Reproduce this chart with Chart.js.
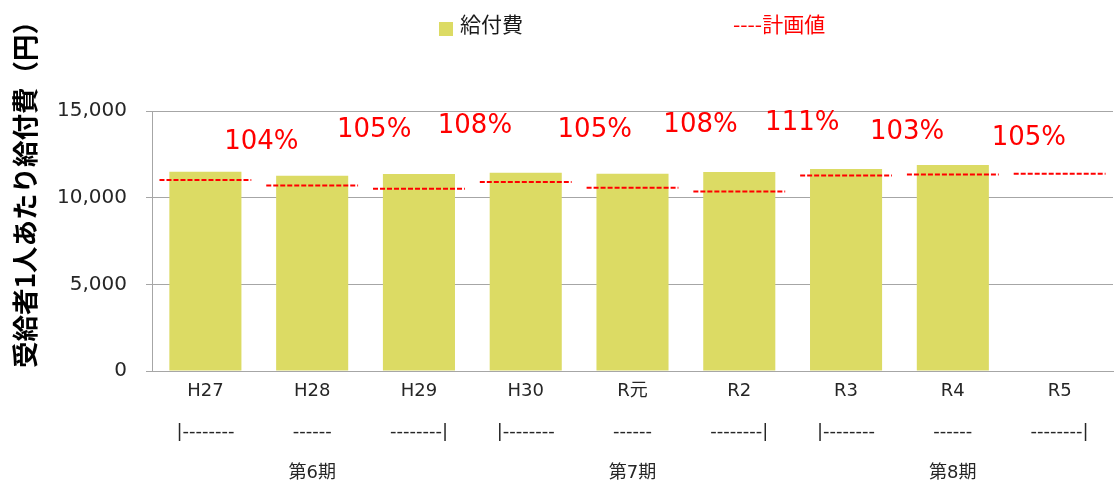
<!DOCTYPE html>
<html lang="ja">
<head>
<meta charset="utf-8">
<title>受給者1人あたり給付費</title>
<script src="https://cdn.jsdelivr.net/npm/chart.js@4.4.1/dist/chart.umd.min.js"></script>
<style>
  html, body { margin: 0; padding: 0; background: #ffffff; }
  #wrap { width: 1114px; height: 482px; }
</style>
</head>
<body>
<div id="wrap"><canvas id="chart" width="1114" height="482"></canvas></div>
<script>
// Fiscal years, with the period brackets and period names shown beneath them
const categories = ['H27', 'H28', 'H29', 'H30', 'R元', 'R2', 'R3', 'R4', 'R5'];
const bracketRow = ['|--------', '------', '--------|', '|--------', '------', '--------|', '|--------', '------', '--------|'];
const periodRow = ['', '第6期', '', '', '第7期', '', '', '第8期', ''];

// Benefit cost per recipient (yen) and the planned value for each year
const benefitCost = [11500, 11270, 11360, 11440, 11380, 11480, 11650, 11880, null];
const planValue = [11020, 10700, 10520, 10900, 10570, 10360, 11280, 11340, 11380];

// Value axis ticks
const yTicks = [0, 5000, 10000, 15000];

const LATIN = "'DejaVu Sans', 'Noto Sans CJK JP', sans-serif";
const CJK = "'Noto Sans CJK JP', 'DejaVu Sans', sans-serif";
const BAR_COLOR = 'rgb(220, 219, 100)';
const PLAN_COLOR = '#ff0000';
const GRID_COLOR = '#a6a6a6';
const SEG_HALF = 0.43; // half length of each plan segment, in category units

// Each plan value becomes a short horizontal segment centred on its year
const planSegments = [];
planValue.forEach((v, i) => {
  planSegments.push({ x: i - SEG_HALF, y: v }, { x: i + SEG_HALF, y: v }, { x: i + 0.5, y: null });
});

// Ratio of actual to plan, shown as a percentage above each year
const ratioLabels = benefitCost.map((v, i) =>
  v == null ? null : Math.round(v / planValue[i] * 100) + '%');

const xLabels = categories.map((c, i) => [c, bracketRow[i], periodRow[i]]);

const overlay = {
  id: 'overlay',
  afterDraw(chart, args, opts) {
    const ctx = chart.ctx;
    const xs = chart.scales.x;
    const top = chart.chartArea.top;
    ctx.save();

    // legend
    ctx.fillStyle = BAR_COLOR;
    ctx.fillRect(439, 22, 14, 14);
    ctx.font = '21px ' + CJK;
    ctx.textBaseline = 'middle';
    ctx.textAlign = 'left';
    ctx.fillStyle = '#1a1a1a';
    ctx.fillText('給付費', 460, 24);
    ctx.fillStyle = PLAN_COLOR;
    ctx.fillText('----計画値', 733, 24);

    // value axis title
    ctx.save();
    ctx.translate(25, 188);
    ctx.rotate(-Math.PI / 2);
    ctx.font = 'bold 26.5px ' + CJK;
    ctx.fillStyle = '#000000';
    ctx.textAlign = 'center';
    ctx.textBaseline = 'middle';
    ctx.fillText('受給者1人あたり給付費（円）', 0, 0);
    ctx.restore();

    // ratio labels
    ctx.font = '26px ' + LATIN;
    ctx.fillStyle = PLAN_COLOR;
    ctx.textAlign = 'center';
    ctx.textBaseline = 'middle';
    ratioLabels.forEach((t, i) => {
      if (!t) return;
      const x = xs.getPixelForValue(i) + opts.dx[i];
      ctx.fillText(t, x, top + opts.dy[i]);
    });
    ctx.restore();
  }
};

new Chart(document.getElementById('chart'), {
  data: {
    labels: xLabels,
    datasets: [
      {
        type: 'line',
        label: '計画値',
        data: planSegments,
        xAxisID: 'x2',
        yAxisID: 'y',
        borderColor: PLAN_COLOR,
        borderWidth: 2,
        borderDash: [5, 2],
        pointRadius: 0,
        spanGaps: false,
        fill: false,
        order: 0
      },
      {
        type: 'bar',
        label: '給付費',
        data: benefitCost,
        xAxisID: 'x',
        yAxisID: 'y',
        backgroundColor: BAR_COLOR,
        borderWidth: 0,
        grouped: false,
        categoryPercentage: 1,
        barPercentage: 0.675,
        order: 1
      }
    ]
  },
  options: {
    responsive: false,
    animation: false,
    events: [],
    layout: { padding: { top: 111, right: 1, bottom: 0, left: 0 } },
    plugins: {
      legend: { display: false },
      tooltip: { enabled: false },
      overlay: {
        dx: [56, 62, 56, 69, 68, 63, 61, 76, 0],
        dy: [31, 19, 15, 19, 14, 12, 21, 27, 0]
      }
    },
    scales: {
      x: {
        type: 'category',
        offset: true,
        grid: { display: false, drawTicks: false },
        border: { display: true, color: GRID_COLOR },
        ticks: {
          autoSkip: false,
          maxRotation: 0,
          padding: 0,
          color: '#262626',
          font: { family: LATIN, size: 18, lineHeight: 41 / 18 }
        },
        afterFit(scale) { scale.height = 111; }
      },
      x2: {
        type: 'linear',
        min: -0.5,
        max: categories.length - 0.5,
        display: false
      },
      y: {
        min: 0,
        max: 15000,
        afterBuildTicks(scale) { scale.ticks = yTicks.map(v => ({ value: v })); },
        grid: { color: GRID_COLOR, lineWidth: 1, tickLength: 6, drawTicks: true },
        border: { display: true, color: GRID_COLOR },
        ticks: {
          padding: 19,
          color: '#262626',
          font: { family: LATIN, size: 20 },
          callback: v => v.toLocaleString('en-US')
        },
        afterFit(scale) { scale.width = 152; }
      }
    }
  },
  plugins: [overlay]
});
</script>
</body>
</html>
